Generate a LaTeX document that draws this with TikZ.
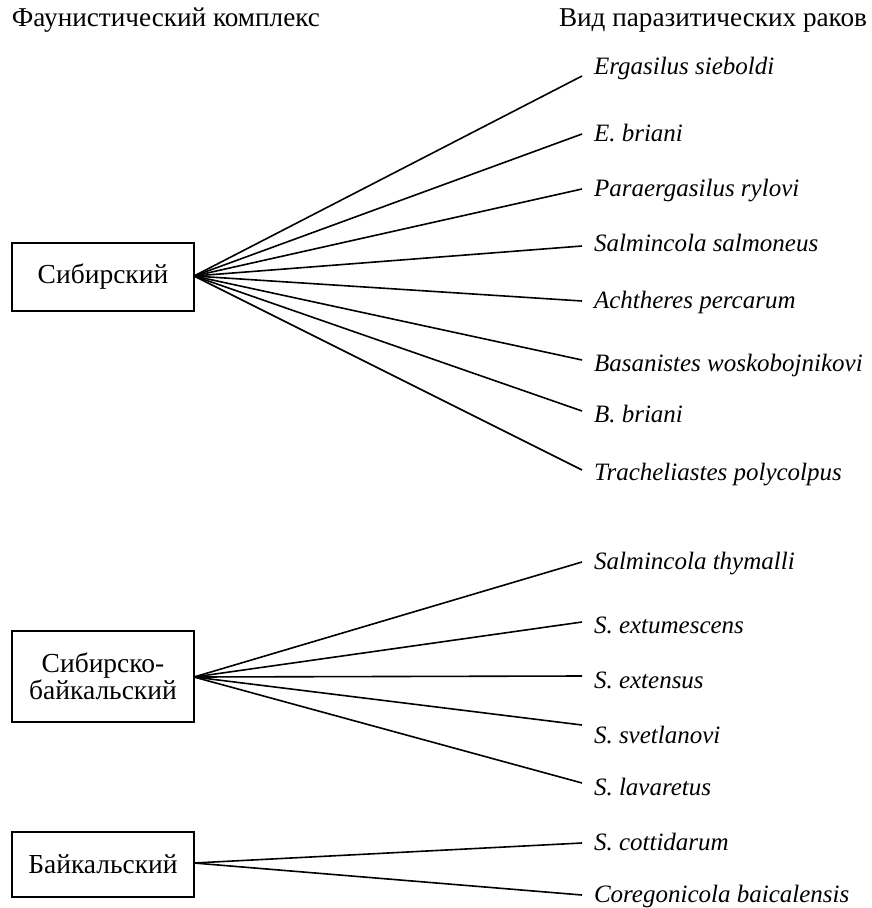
\documentclass[tikz,border=0pt]{standalone}
\usepackage{fontspec}
\setmainfont{Liberation Serif}
\begin{document}
\begin{tikzpicture}[x=1pt,y=-1pt,
  every node/.style={inner sep=0pt, outer sep=0pt},
  hdr/.style={anchor=base west, font=\fontsize{27.2}{29}\selectfont},
  grp/.style={draw, line width=1.8pt, minimum width=182pt, align=center,
    font=\fontsize{27.5}{27.5}\selectfont},
  sp/.style={anchor=base west, font=\fontsize{25}{27}\selectfont\itshape},
  link/.style={line width=1.6pt}]
\useasboundingbox (0,0) rectangle (871,908);

% headers
\node[hdr] (h1) at (12,26) {Фаунистический комплекс};
\node[hdr,anchor=base east] (h2) at (867,26) {Вид паразитических раков};

% groups
\node[grp, minimum height=68pt] (g1) at (103,277) {Сибирский};
\node[grp, minimum height=91pt] (g2) at (103,676.5) {Сибирско-\\байкальский};
\node[grp, minimum height=65pt] (g3) at (103,864.5) {Байкальский};

% species labels
\node[sp] (s1) at (594,74) {Ergasilus sieboldi};
\node[sp] (s2) at (594,141) {E. briani};
\node[sp] (s3) at (594,196) {Paraergasilus rylovi};
\node[sp] (s4) at (594,251) {Salmincola salmoneus};
\node[sp] (s5) at (594,308) {Achtheres percarum};
\node[sp] (s6) at (594,371) {Basanistes woskobojnikovi};
\node[sp] (s7) at (594,422) {B. briani};
\node[sp] (s8) at (594,480) {Tracheliastes polycolpus};
\node[sp] (s9) at (594,569) {Salmincola thymalli};
\node[sp] (s10) at (594,633) {S. extumescens};
\node[sp] (s11) at (594,688) {S. extensus};
\node[sp] (s12) at (594,743) {S. svetlanovi};
\node[sp] (s13) at (594,795) {S. lavaretus};
\node[sp] (s14) at (594,850) {S. cottidarum};
\node[sp] (s15) at (594,902) {Coregonicola baicalensis};

% connector ends beside the labels
\coordinate (e1) at (582,76);
\coordinate (e2) at (582,134);
\coordinate (e3) at (582,189);
\coordinate (e4) at (582,246);
\coordinate (e5) at (582,301);
\coordinate (e6) at (582,360);
\coordinate (e7) at (582,411);
\coordinate (e8) at (582,470);
\coordinate (e9) at (582,562);
\coordinate (e10) at (582,622);
\coordinate (e11) at (582,676);
\coordinate (e12) at (582,725);
\coordinate (e13) at (582,783);
\coordinate (e14) at (582,843);
\coordinate (e15) at (582,895);

% connectors
\foreach \i in {1,...,8} \draw[link] ([yshift=1pt]g1.east) -- (e\i);
\foreach \i in {9,...,13} \draw[link] ([yshift=-0.5pt]g2.east) -- (e\i);
\foreach \i in {14,15} \draw[link] ([yshift=1.5pt]g3.east) -- (e\i);
\end{tikzpicture}
\end{document}
